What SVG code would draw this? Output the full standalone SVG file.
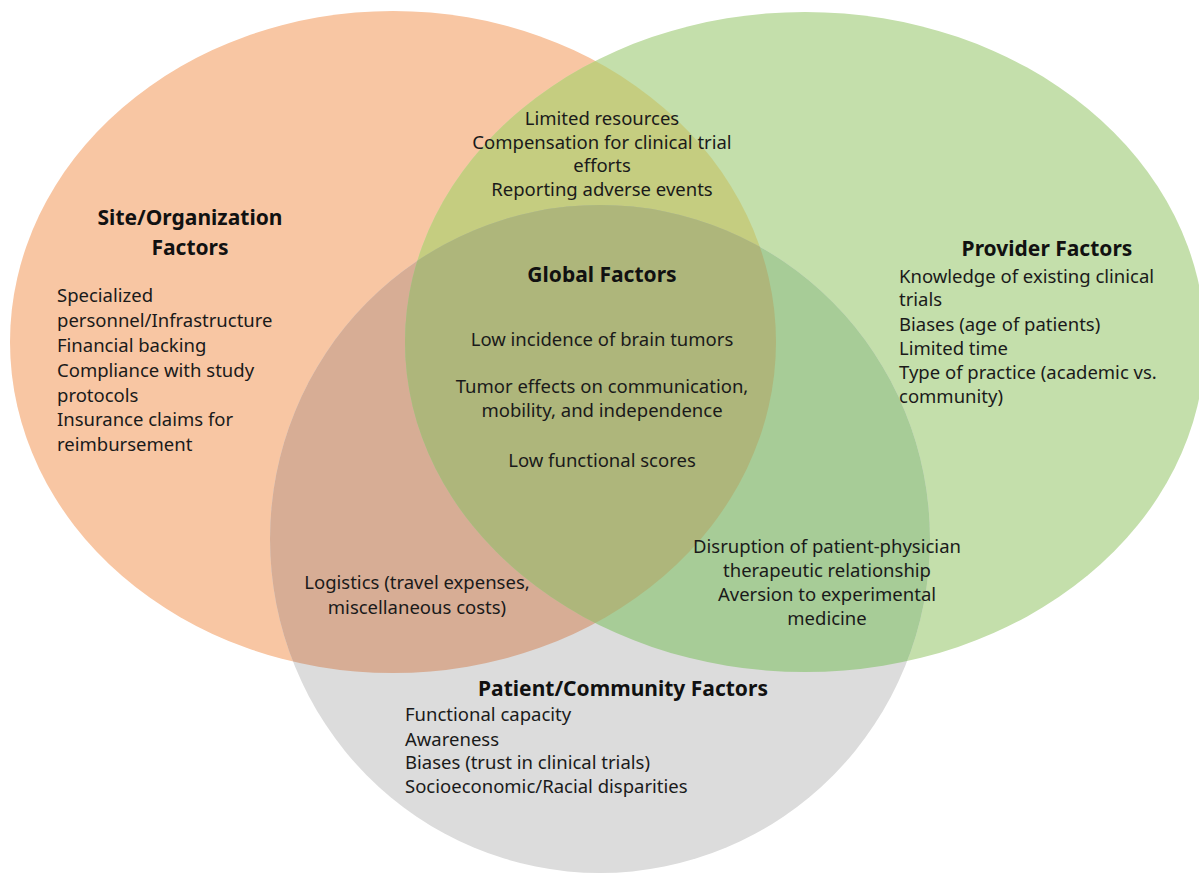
<svg xmlns="http://www.w3.org/2000/svg" width="1199" height="874" viewBox="0 0 1199 874">
  <style>
    text { font-family: "Noto Sans", "Open Sans", sans-serif; font-size: 18.5px; fill: #1a1a1a; }
    .h { font-weight: bold; font-size: 21px; fill: #111; }
    .c { text-anchor: middle; }
  </style>
  <defs>
    <clipPath id="clip-site"><ellipse cx="393" cy="342" rx="383" ry="331"/></clipPath>
    <clipPath id="clip-provider"><ellipse cx="805" cy="342" rx="400" ry="330"/></clipPath>
    <clipPath id="clip-patient"><ellipse cx="600" cy="539" rx="330" ry="334"/></clipPath>
  </defs>
  <rect width="1199" height="874" fill="#ffffff"/>

  <!-- base sets -->
  <g id="site">
    <ellipse cx="393" cy="342" rx="383" ry="331" fill="#f8c6a3"/>
  </g>
  <g id="provider">
    <ellipse cx="805" cy="342" rx="400" ry="330" fill="#c4dfab"/>
  </g>
  <g id="patient">
    <ellipse cx="600" cy="539" rx="330" ry="334" fill="#dcdcdc"/>
  </g>

  <!-- pairwise overlaps -->
  <g id="site-provider">
    <ellipse cx="393" cy="342" rx="383" ry="331" fill="#c5cd80" clip-path="url(#clip-provider)"/>
  </g>
  <g id="site-patient">
    <ellipse cx="600" cy="539" rx="330" ry="334" fill="#d7ad95" clip-path="url(#clip-site)"/>
  </g>
  <g id="provider-patient">
    <ellipse cx="600" cy="539" rx="330" ry="334" fill="#a7cc97" clip-path="url(#clip-provider)"/>
  </g>
  <!-- centre: all three -->
  <g id="global">
    <g clip-path="url(#clip-site)">
      <ellipse cx="600" cy="539" rx="330" ry="334" fill="#aeb67b" clip-path="url(#clip-provider)"/>
    </g>
  </g>

  <!-- labels -->
  <g id="site-labels">
    <text class="h c" x="190" y="225">Site/Organization</text>
    <text class="h c" x="190" y="255">Factors</text>
    <text x="57" y="302">Specialized</text>
    <text x="57" y="327">personnel/Infrastructure</text>
    <text x="57" y="352">Financial backing</text>
    <text x="57" y="377">Compliance with study</text>
    <text x="57" y="402">protocols</text>
    <text x="57" y="426">Insurance claims for</text>
    <text x="57" y="451">reimbursement</text>
  </g>
  <g id="provider-labels">
    <text class="h c" x="1047" y="256">Provider Factors</text>
    <text x="899" y="283">Knowledge of existing clinical</text>
    <text x="899" y="306">trials</text>
    <text x="899" y="331">Biases (age of patients)</text>
    <text x="899" y="355">Limited time</text>
    <text x="899" y="379">Type of practice (academic vs.</text>
    <text x="899" y="403">community)</text>
  </g>
  <g id="patient-labels">
    <text class="h c" x="623" y="696">Patient/Community Factors</text>
    <text x="405" y="721">Functional capacity</text>
    <text x="405" y="746">Awareness</text>
    <text x="405" y="769">Biases (trust in clinical trials)</text>
    <text x="405" y="793">Socioeconomic/Racial disparities</text>
  </g>
  <g id="site-provider-labels">
    <text class="c" x="602" y="125">Limited resources</text>
    <text class="c" x="602" y="149">Compensation for clinical trial</text>
    <text class="c" x="602" y="172">efforts</text>
    <text class="c" x="602" y="196">Reporting adverse events</text>
  </g>
  <g id="site-patient-labels">
    <text class="c" x="417" y="589">Logistics (travel expenses,</text>
    <text class="c" x="417" y="614">miscellaneous costs)</text>
  </g>
  <g id="provider-patient-labels">
    <text class="c" x="827" y="553">Disruption of patient-physician</text>
    <text class="c" x="827" y="577">therapeutic relationship</text>
    <text class="c" x="827" y="601">Aversion to experimental</text>
    <text class="c" x="827" y="625">medicine</text>
  </g>
  <g id="global-labels">
    <text class="h c" x="602" y="282">Global Factors</text>
    <text class="c" x="602" y="346">Low incidence of brain tumors</text>
    <text class="c" x="602" y="393">Tumor effects on communication,</text>
    <text class="c" x="602" y="417">mobility, and independence</text>
    <text class="c" x="602" y="467">Low functional scores</text>
  </g>
</svg>
